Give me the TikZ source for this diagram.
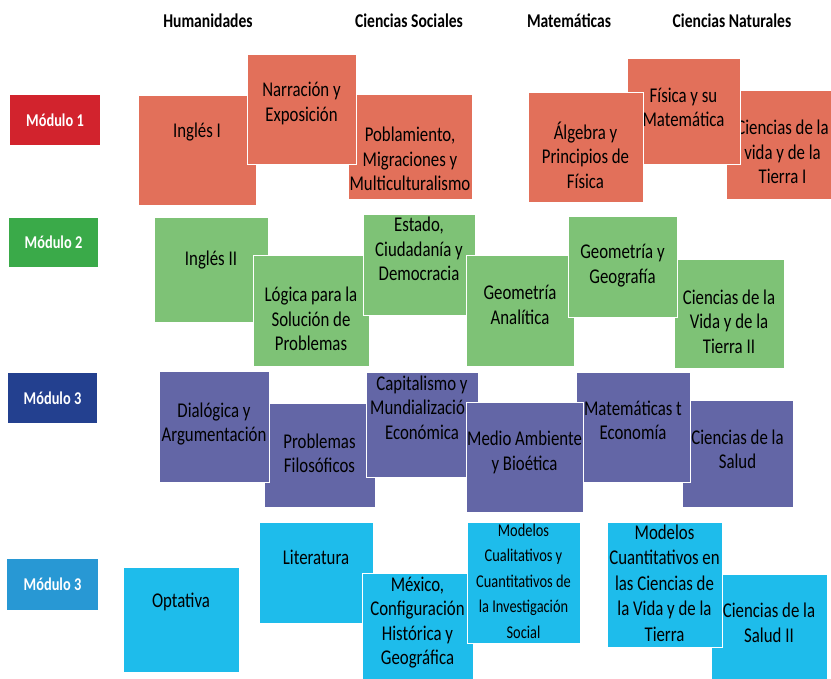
\documentclass[tikz,border=0pt]{standalone}
\usepackage{fontspec}
\setmainfont{Carlito}[FakeStretch=0.8]
\usepackage{xcolor}
\usepackage{tikz}
\usetikzlibrary{positioning}

\definecolor{tagred}{RGB}{210,35,45}
\definecolor{boxred}{RGB}{226,112,90}
\definecolor{taggreen}{RGB}{58,170,73}
\definecolor{boxgreen}{RGB}{126,194,118}
\definecolor{tagblue}{RGB}{35,64,143}
\definecolor{boxblue}{RGB}{99,102,166}
\definecolor{tagcyan}{RGB}{40,152,212}
\definecolor{boxcyan}{RGB}{30,188,235}

\newcommand{\subjfont}{\fontsize{21}{24.5}\selectfont}
\newcommand{\headfont}{\fontsize{19.5}{22}\selectfont\bfseries}
\newcommand{\tagfont}{\fontsize{18}{20}\selectfont\bfseries}

\begin{document}
\begin{tikzpicture}[x=1pt, y=-1pt,
    subj/.style={rectangle, draw=white, line width=1pt, inner sep=0pt},
    redbox/.style={subj, fill=boxred},
    greenbox/.style={subj, fill=boxgreen},
    bluebox/.style={subj, fill=boxblue},
    cyanbox/.style={subj, fill=boxcyan},
    tag/.style={rectangle, inner sep=0pt, text=white, font=\tagfont},
    txt/.style={align=center, inner sep=0pt, font=\subjfont},
    head/.style={font=\headfont}
]
    \useasboundingbox (0,0) rectangle (831,679);
    \clip (0,0) rectangle (831,679);

    % Column headers
    \node[head] (hum) at (208,21) {Humanidades};
    \node[head] (soc) at (409,21) {Ciencias Sociales};
    \node[head] (mat) at (569,21) {Matemáticas};
    \node[head] (nat) at (732,21) {Ciencias Naturales};

    % Module tags
    \node[tag, fill=tagred, minimum width=90pt, minimum height=50pt] (tag1) at (55,120) {Módulo 1};
    \node[tag, fill=taggreen, minimum width=89pt, minimum height=49pt] (tag2) at (53.5,242.5) {Módulo 2};
    \node[tag, fill=tagblue, minimum width=89pt, minimum height=50pt] (tag3) at (52.5,398) {Módulo 3};
    \node[tag, fill=tagcyan, minimum width=91pt, minimum height=51pt] (tag4) at (52.5,584.5) {Módulo 3};

    % Module 1
    \node[redbox, minimum width=118pt, minimum height=110pt] (ing1) at (197,151) {};
    \node[txt] (ing1t) at (197,132) {Inglés I};
    \node[redbox, minimum width=124pt, minimum height=105pt] (pobl) at (410,147.5) {};
    \node[txt] (poblt) at (410,159) {Poblamiento,\\Migraciones y\\Multiculturalismo};
    \node[redbox, minimum width=109pt, minimum height=110pt] (narr) at (301.5,110) {};
    \node[txt] (narrt) at (301.5,103.5) {Narración y\\Exposición};
    \node[redbox, minimum width=113pt, minimum height=109pt] (cvt1) at (782.5,145.5) {};
    \node[txt] (cvt1t) at (782.5,152) {Ciencias de la\\vida y de la\\Tierra I};
    \node[redbox, minimum width=113pt, minimum height=106pt] (fis) at (683.5,112) {};
    \node[txt] (fist) at (683.5,107.5) {Física y su\\Matemática};
    \node[redbox, minimum width=115pt, minimum height=110pt] (alg) at (585.5,148) {};
    \node[txt] (algt) at (585.5,155) {Álgebra y\\Principios de\\Física};

    % Module 2
    \node[greenbox, minimum width=114pt, minimum height=105pt] (ing2) at (211,270.5) {};
    \node[txt] (ing2t) at (211,260) {Inglés II};
    \node[greenbox, minimum width=116pt, minimum height=111pt] (log) at (311,311.5) {};
    \node[txt] (logt) at (311,319) {Lógica para la\\Solución de\\Problemas};
    \node[greenbox, minimum width=112pt, minimum height=101pt] (est) at (419,265.5) {};
    \node[txt] (estt) at (419,249) {Estado,\\Ciudadanía y\\Democracia};
    \node[greenbox, minimum width=108pt, minimum height=111pt] (gan) at (520,311.5) {};
    \node[txt] (gant) at (520,305) {Geometría\\Analítica};
    \node[greenbox, minimum width=110pt, minimum height=109pt] (cvt2) at (729,314.5) {};
    \node[txt] (cvt2t) at (729,321.5) {Ciencias de la\\Vida y de la\\Tierra II};
    \node[greenbox, minimum width=109pt, minimum height=101pt] (ggeo) at (622.5,267.5) {};
    \node[txt] (ggeot) at (622.5,265.5) {Geometría y\\Geografía};

    % Module 3
    \node[bluebox, minimum width=111pt, minimum height=103pt] (prob) at (319.5,455.5) {};
    \node[txt] (probt) at (319.5,453.5) {Problemas\\Filosóficos};
    \node[bluebox, minimum width=110pt, minimum height=110pt] (dial) at (214,427) {};
    \node[txt] (dialt) at (214,424) {Dialógica y\\Argumentación};
    \node[bluebox, minimum width=111pt, minimum height=106pt] (sal) at (737.5,454) {};
    \node[txt] (salt) at (737.5,449.5) {Ciencias de la\\Salud};
    \node[bluebox, minimum width=114pt, minimum height=109pt] (meco) at (633,427.5) {};
    \node[txt] (mecot) at (633,420.5) {Matemáticas t\\Economía};
    \node[bluebox, minimum width=112pt, minimum height=104pt] (cap) at (422,425) {};
    \node[txt] (capt) at (422,407.5) {Capitalismo y\\Mundialización\\Económica};
    \node[bluebox, minimum width=117pt, minimum height=109pt] (med) at (524.5,457.5) {};
    \node[txt] (medt) at (524.5,452.5) {Medio Ambiente\\y Bioética};

    % Module 3 (second)
    \node[cyanbox, minimum width=116pt, minimum height=105pt] (opt) at (181,619.5) {};
    \node[txt] (optt) at (181,602) {Optativa};
    \node[cyanbox, minimum width=114pt, minimum height=101pt] (lit) at (316,572.5) {};
    \node[txt] (litt) at (316,557) {Literatura};
    \node[cyanbox, minimum width=111pt, minimum height=109pt] (mex) at (417.5,627.5) {};
    \node[txt] (mext) at (417.5,622.5) {México,\\Configuración\\Histórica y\\Geográfica};
    \node[cyanbox, minimum width=113pt, minimum height=121pt] (mcual) at (523.5,582.5) {};
    \node[txt, font=\fontsize{18}{25.5}\selectfont] (mcualt) at (523.5,581) {Modelos\\Cualitativos y\\Cuantitativos de\\la Investigación\\Social};
    \node[cyanbox, minimum width=116pt, minimum height=108pt] (sal2) at (769,628) {};
    \node[txt] (sal2t) at (769,623) {Ciencias de la\\Salud II};
    \node[cyanbox, minimum width=115pt, minimum height=125pt] (mcuan) at (664.5,584.5) {};
    \node[txt, font=\fontsize{21}{25.5}\selectfont] (mcuant) at (664.5,583) {Modelos\\Cuantitativos en\\las Ciencias de\\la Vida y de la\\Tierra};

\end{tikzpicture}
\end{document}
